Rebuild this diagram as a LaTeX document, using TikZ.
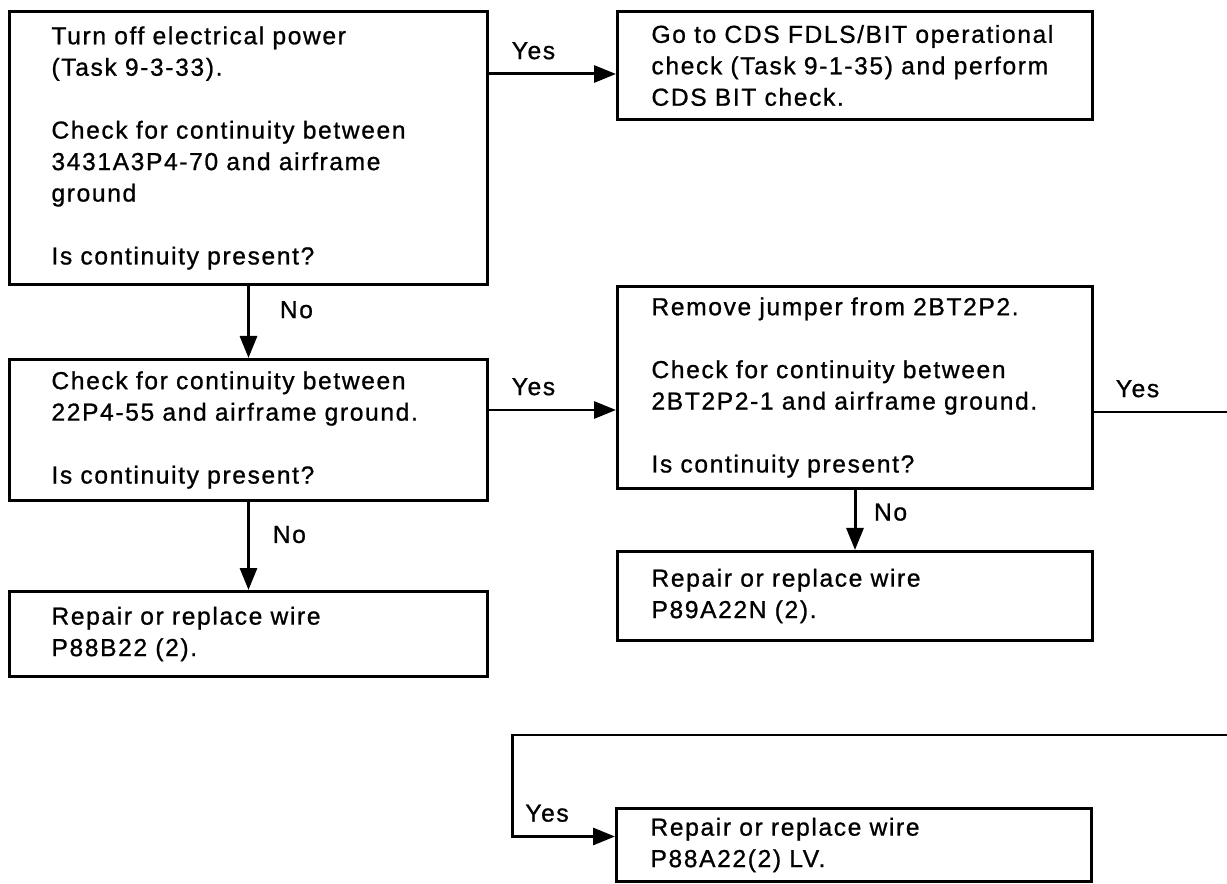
\documentclass[tikz,border=0pt]{standalone}
\usepackage{fontspec}
\setmainfont{Liberation Sans}[LetterSpace=6.6,FakeBold=0.9]
\usetikzlibrary{positioning,arrows.meta}
\tikzset{
  box/.style={draw,line width=1.7pt,align=left,inner sep=0pt,anchor=north west,font=\fontsize{14}{17.9}\selectfont},
  arr/.style={-{Triangle[length=4.4mm,width=3.4mm]},line width=1.7pt},
  lin/.style={line width=1.7pt},
  lbl/.style={inner sep=0pt,font=\fontsize{14}{17.9}\selectfont}
}

\begin{document}
\begin{tikzpicture}
\useasboundingbox (0,0) rectangle (24.54,-17.68);
% left column
\node[box, minimum width=9.56cm, minimum height=5.46cm, text width=7.88cm] (power) at (0.16,-0.20) {Turn off electrical power\\(Task 9-3-33).\\[17.9pt]Check for continuity between\\3431A3P4-70 and airframe\\ground\\[17.9pt]Is continuity present?};
\node[box, minimum width=9.56cm, minimum height=2.82cm, text width=7.88cm] (check22) at (0.16,-7.16) {Check for continuity between\\22P4-55 and airframe ground.\\[17.9pt]Is continuity present?};
\node[box, minimum width=9.56cm, minimum height=1.70cm, text width=7.88cm] (repair1) at (0.16,-11.80) {Repair or replace wire\\P88B22 (2).};
% right column
\node[box, minimum width=9.50cm, minimum height=2.16cm, text width=8.14cm] (cdsbit) at (12.32,-0.20) {Go to CDS FDLS/BIT operational\\check (Task 9-1-35) and perform\\CDS BIT check.};
\node[box, minimum width=9.50cm, minimum height=4.04cm, text width=8.14cm] (jumper) at (12.32,-5.70) {Remove jumper from 2BT2P2.\\[17.9pt]Check for continuity between\\2BT2P2-1 and airframe ground.\\[17.9pt]Is continuity present?};
\node[box, minimum width=9.50cm, minimum height=1.78cm, text width=8.14cm] (repair2) at (12.32,-11.00) {Repair or replace wire\\P89A22N (2).};
\node[box, minimum width=9.50cm, minimum height=1.46cm, text width=8.14cm] (repair3) at (12.30,-16.14) {Repair or replace wire\\P88A22(2) LV.};

\draw[arr] ([yshift=-1.28cm]power.north east) coordinate (p1) -- (p1 -| cdsbit.west) node[lbl, pos=0.35, above=7.5pt] (yes1) {Yes};
\draw[arr] (power.south) -- (check22.north) node[lbl, pos=0.33, right=17pt] (no1) {No};
\draw[arr] ([yshift=-1.04cm]check22.north east) coordinate (c1) -- (c1 -| jumper.west) node[lbl, pos=0.35, above=7.5pt] (yes2) {Yes};
\draw[arr] (check22.south) -- (repair1.north) node[lbl, pos=0.37, right=13pt] (no2) {No};
\draw[arr] (jumper.south) -- (repair2.north) node[lbl, pos=0.37, right=10pt] (no3) {No};

% off the page and back
\coordinate (edge) at (24.6,0);
\draw[lin] ([yshift=-2.54cm]jumper.north east) coordinate (j1) -- (j1 -| edge) node[lbl, pos=0.32, above=7.5pt] (yes3) {Yes};
\coordinate (back) at (24.6,-14.70);
\draw[arr] (back) -- ++(-14.36,0) |- ([yshift=0.17cm]repair3.west) node[lbl, pos=0.67, above=7.5pt] (yes4) {Yes};
\end{tikzpicture}
\end{document}
